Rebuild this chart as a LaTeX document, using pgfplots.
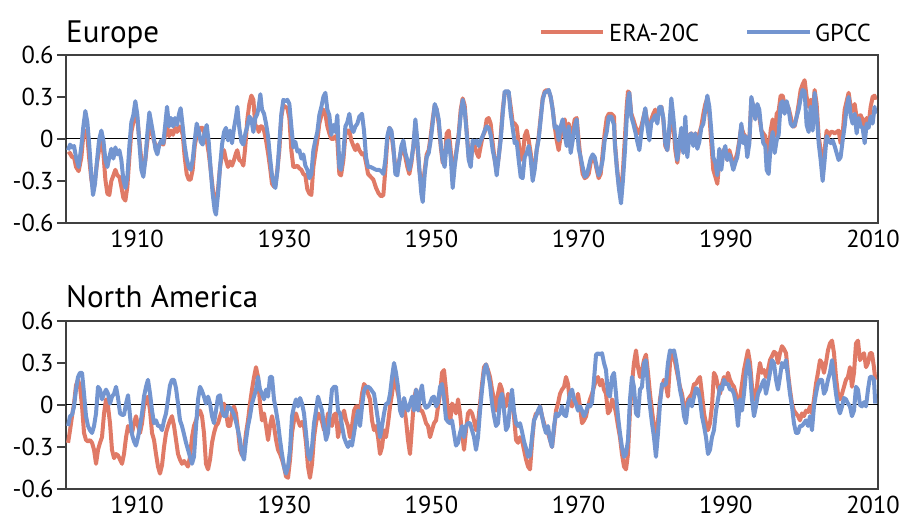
\documentclass[border=0pt]{standalone}
\usepackage{fontspec}
\setmainfont{PT Sans}
\usepackage{pgfplots}
\usepackage{pgfplotstable}
\pgfplotsset{compat=1.18}

\definecolor{era}{RGB}{224,122,102}
\definecolor{gpcc}{RGB}{115,149,208}

% Europe: year, ERA-20C, GPCC
\pgfplotstableread{
year era gpcc
1900.63 -0.11 -0.08
1900.90 -0.10 -0.04
1901.17 -0.13 -0.06
1901.44 -0.13 -0.05
1901.71 -0.20 -0.13
1902.07 -0.23 -0.20
1902.44 -0.13 -0.05
1902.71 0.03 0.09
1902.98 0.06 0.20
1903.25 0.02 0.12
1903.52 -0.15 -0.05
1903.80 -0.29 -0.27
1904.02 -0.35 -0.40
1904.29 -0.29 -0.32
1904.57 -0.17 -0.15
1904.84 -0.08 -0.01
1905.15 -0.02 0.06
1905.43 -0.10 -0.01
1905.70 -0.29 -0.15
1905.97 -0.39 -0.20
1906.24 -0.40 -0.13
1906.51 -0.30 -0.07
1906.79 -0.26 -0.14
1907.06 -0.22 -0.06
1907.33 -0.26 -0.11
1907.60 -0.27 -0.08
1907.87 -0.34 -0.15
1908.14 -0.42 -0.29
1908.42 -0.44 -0.35
1908.69 -0.34 -0.27
1908.96 -0.13 -0.05
1909.23 0.05 0.12
1909.50 0.12 0.17
1909.77 0.21 0.27
1910.05 0.14 0.17
1910.32 -0.01 -0.03
1910.59 -0.15 -0.22
1910.86 -0.22 -0.27
1911.13 -0.15 -0.15
1911.40 -0.02 0.04
1911.68 0.11 0.19
1911.95 0.06 0.11
1912.22 0.00 0.03
1912.49 -0.04 -0.07
1912.76 -0.07 -0.11
1913.03 -0.04 -0.04
1913.31 -0.03 -0.01
1913.58 -0.04 -0.03
1913.85 0.04 0.11
1914.08 0.09 0.23
1914.35 0.02 0.09
1914.62 0.06 0.15
1914.89 0.03 0.09
1915.16 0.08 0.15
1915.44 0.05 0.10
1915.71 0.09 0.18
1915.93 0.08 0.22
1916.21 0.03 0.09
1916.48 -0.13 -0.05
1916.75 -0.25 -0.14
1917.02 -0.29 -0.20
1917.29 -0.29 -0.22
1917.56 -0.22 -0.15
1917.84 -0.05 -0.01
1918.11 0.03 0.11
1918.38 0.05 0.06
1918.65 0.08 -0.02
1918.92 0.08 -0.04
1919.19 0.03 0.05
1919.47 -0.01 0.10
1919.74 -0.10 -0.02
1920.01 -0.22 -0.22
1920.28 -0.35 -0.39
1920.55 -0.46 -0.51
1920.73 -0.48 -0.54
1921.01 -0.36 -0.39
1921.28 -0.20 -0.20
1921.55 -0.11 -0.04
1921.82 -0.08 0.05
1922.09 -0.15 0.08
1922.36 -0.20 -0.01
1922.64 -0.16 0.06
1922.91 -0.19 -0.03
1923.18 -0.15 0.08
1923.45 -0.10 0.16
1923.63 -0.08 0.23
1923.90 -0.15 0.08
1924.18 -0.16 -0.02
1924.45 -0.19 -0.04
1924.72 -0.05 0.04
1924.99 0.14 0.09
1925.26 0.25 0.16
1925.54 0.31 0.14
1925.81 0.28 0.05
1926.08 0.09 0.15
1926.35 0.09 0.18
1926.53 0.05 0.23
1926.76 0.09 0.32
1926.98 0.09 0.21
1927.26 0.06 0.18
1927.53 -0.01 0.11
1927.80 -0.10 0.02
1928.07 -0.20 -0.13
1928.34 -0.32 -0.26
1928.61 -0.34 -0.33
1928.80 -0.33 -0.35
1929.07 -0.22 -0.23
1929.34 -0.08 -0.03
1929.61 0.16 0.18
1929.88 0.24 0.28
1930.15 0.23 0.27
1930.43 0.22 0.28
1930.70 0.15 0.25
1930.97 -0.08 0.09
1931.24 -0.20 -0.06
1931.51 -0.20 -0.02
1931.79 -0.19 -0.09
1932.06 -0.21 -0.08
1932.33 -0.22 -0.14
1932.60 -0.25 -0.11
1932.87 -0.26 -0.19
1933.14 -0.36 -0.22
1933.42 -0.39 -0.28
1933.69 -0.40 -0.25
1933.96 -0.20 -0.08
1934.23 -0.10 -0.01
1934.50 -0.01 0.05
1934.77 0.11 0.17
1935.05 0.17 0.23
1935.32 0.21 0.30
1935.59 0.18 0.33
1935.86 0.09 0.21
1936.13 0.04 0.17
1936.40 0.00 0.03
1936.68 0.00 0.10
1936.95 0.02 0.05
1937.22 -0.01 0.17
1937.49 -0.25 -0.20
1937.72 -0.26 -0.22
1938.04 -0.15 -0.10
1938.31 0.03 0.09
1938.58 0.06 0.12
1938.85 0.06 0.18
1939.12 -0.01 0.08
1939.40 -0.05 0.05
1939.67 -0.08 0.09
1939.94 -0.04 0.11
1940.21 -0.08 0.16
1940.57 -0.11 0.18
1940.84 -0.10 0.06
1941.12 -0.17 -0.13
1941.39 -0.25 -0.20
1941.75 -0.27 -0.20
1942.11 -0.29 -0.21
1942.48 -0.35 -0.22
1942.84 -0.39 -0.22
1943.20 -0.41 -0.23
1943.47 -0.40 -0.25
1943.74 -0.22 -0.15
1944.01 -0.01 0.02
1944.29 0.08 0.08
1944.56 0.05 0.06
1944.83 -0.08 -0.05
1945.10 -0.20 -0.25
1945.37 -0.22 -0.26
1945.65 -0.15 -0.15
1945.92 -0.08 -0.05
1946.19 -0.05 -0.01
1946.46 -0.13 -0.10
1946.73 -0.20 -0.15
1947.00 -0.25 -0.22
1947.28 -0.17 -0.15
1947.55 -0.05 -0.05
1947.82 0.09 0.14
1948.09 -0.05 -0.01
1948.36 -0.22 -0.22
1948.63 -0.32 -0.39
1948.82 -0.35 -0.45
1949.09 -0.22 -0.25
1949.36 -0.11 -0.13
1949.63 -0.08 -0.10
1949.90 0.02 -0.01
1950.17 0.14 0.11
1950.45 0.24 0.25
1950.72 0.21 0.21
1950.99 0.11 0.14
1951.26 -0.05 -0.03
1951.53 -0.17 -0.15
1951.80 -0.15 -0.20
1952.08 0.04 -0.02
1952.35 0.06 -0.01
1952.62 -0.08 -0.13
1952.89 -0.25 -0.35
1953.16 -0.17 -0.20
1953.44 -0.07 -0.08
1953.71 0.04 0.02
1953.98 0.21 0.17
1954.25 0.29 0.28
1954.52 0.24 0.21
1954.79 0.06 0.04
1955.07 -0.13 -0.15
1955.34 -0.17 -0.20
1955.61 -0.03 -0.01
1955.88 -0.05 -0.03
1956.15 -0.10 -0.01
1956.42 -0.13 -0.05
1956.70 -0.05 -0.01
1956.97 0.02 0.02
1957.24 0.05 0.06
1957.51 0.14 0.09
1957.78 0.15 0.08
1958.05 0.11 0.03
1958.33 -0.03 -0.08
1958.60 -0.15 -0.15
1958.87 -0.22 -0.26
1959.14 -0.13 -0.13
1959.41 0.02 -0.01
1959.69 0.21 0.18
1959.96 0.33 0.34
1960.23 0.34 0.34
1960.50 0.33 0.34
1960.77 0.23 0.18
1961.04 0.12 0.08
1961.32 0.11 -0.03
1961.59 0.09 -0.02
1961.86 -0.03 -0.15
1962.13 -0.15 -0.27
1962.40 -0.13 -0.28
1962.67 0.02 -0.13
1962.95 0.06 -0.10
1963.22 -0.01 -0.05
1963.49 -0.10 -0.14
1963.76 -0.25 -0.30
1964.03 -0.20 -0.22
1964.30 -0.08 -0.08
1964.58 0.02 0.00
1964.85 0.16 0.14
1965.12 0.29 0.28
1965.39 0.34 0.33
1965.66 0.35 0.34
1965.94 0.34 0.35
1966.21 0.30 0.30
1966.48 0.21 0.21
1966.75 0.09 0.08
1967.02 -0.01 0.09
1967.29 -0.08 -0.01
1967.57 0.02 0.09
1967.84 0.11 0.14
1968.11 0.14 0.03
1968.38 0.04 -0.05
1968.65 0.11 0.09
1968.92 0.02 -0.10
1969.20 0.06 -0.01
1969.47 0.14 0.09
1969.74 0.15 0.14
1970.01 -0.01 -0.07
1970.28 -0.15 -0.13
1970.55 -0.25 -0.20
1970.83 -0.28 -0.27
1971.10 -0.27 -0.26
1971.37 -0.25 -0.20
1971.64 -0.17 -0.14
1971.91 -0.13 -0.11
1972.19 -0.15 -0.13
1972.46 -0.22 -0.20
1972.73 -0.28 -0.26
1973.00 -0.25 -0.22
1973.27 -0.10 -0.15
1973.54 0.04 -0.01
1973.82 0.15 0.05
1974.09 0.18 0.16
1974.45 0.18 0.16
1974.81 0.16 0.10
1974.94 -0.03 -0.05
1975.21 -0.20 -0.22
1975.49 -0.34 -0.36
1975.76 -0.39 -0.46
1976.03 -0.22 -0.29
1976.30 0.02 -0.08
1976.53 0.23 0.14
1976.71 0.34 0.28
1976.89 0.33 0.33
1977.16 0.18 0.16
1977.43 0.14 0.11
1977.71 0.09 0.05
1977.98 0.06 -0.02
1978.25 0.04 -0.08
1978.52 0.09 0.04
1978.79 0.15 0.14
1979.06 0.21 0.22
1979.34 0.12 0.09
1979.61 0.04 -0.01
1979.88 0.14 0.12
1980.15 0.18 0.14
1980.42 0.21 0.17
1980.70 0.15 0.11
1980.97 0.22 0.23
1981.24 0.23 0.23
1981.51 0.14 0.15
1981.78 -0.05 -0.03
1982.05 -0.08 -0.08
1982.33 0.04 0.09
1982.60 0.20 0.29
1982.87 0.10 0.16
1983.14 -0.08 -0.01
1983.41 -0.17 -0.15
1983.68 -0.05 -0.03
1983.96 0.02 0.08
1984.23 0.02 -0.10
1984.50 0.04 0.16
1984.77 -0.05 -0.13
1985.04 0.03 0.02
1985.31 0.04 0.04
1985.59 -0.03 -0.05
1985.86 0.04 0.04
1986.13 -0.01 -0.07
1986.40 0.04 -0.02
1986.67 0.09 0.08
1986.95 0.18 0.11
1987.22 0.25 0.21
1987.49 0.29 0.31
1987.76 0.18 0.23
1988.03 -0.03 0.06
1988.30 -0.22 -0.13
1988.58 -0.27 -0.17
1988.85 -0.32 -0.26
1989.12 -0.15 -0.07
1989.39 -0.17 -0.22
1989.66 -0.08 -0.10
1989.93 -0.10 -0.05
1990.21 -0.15 -0.15
1990.48 -0.08 -0.11
1990.75 -0.13 -0.16
1991.02 -0.20 -0.22
1991.29 -0.15 -0.17
1991.56 -0.10 -0.13
1991.84 -0.01 -0.03
1992.11 0.09 0.11
1992.38 0.04 -0.03
1992.65 0.02 0.02
1992.92 -0.03 -0.13
1993.20 -0.01 -0.03
1993.47 0.29 0.30
1993.74 0.23 0.23
1994.01 0.16 0.14
1994.28 0.23 0.25
1994.55 0.16 0.21
1994.83 0.06 0.06
1995.10 0.04 -0.03
1995.37 0.02 -0.05
1995.55 -0.08 -0.22
1995.82 -0.13 -0.25
1996.09 0.06 -0.05
1996.37 0.14 0.05
1996.64 0.02 -0.10
1996.91 0.18 -0.01
1997.18 0.20 0.03
1997.45 0.31 0.25
1997.72 0.31 0.27
1997.99 0.25 0.18
1998.27 0.25 0.27
1998.54 0.22 0.21
1998.81 0.16 0.11
1999.08 0.09 0.09
1999.35 0.09 0.10
1999.63 0.16 0.16
1999.90 0.25 0.21
2000.17 0.35 0.29
2000.44 0.39 0.35
2000.71 0.42 0.34
2000.98 0.30 0.10
2001.26 0.23 0.05
2001.53 0.28 0.23
2001.80 0.18 0.06
2002.07 0.35 0.33
2002.34 0.25 0.18
2002.62 0.02 -0.03
2002.89 -0.08 -0.15
2003.16 -0.15 -0.30
2003.43 -0.08 -0.15
2003.70 0.06 0.02
2003.97 0.02 -0.01
2004.25 0.05 -0.03
2004.52 0.05 -0.01
2004.79 0.04 -0.05
2005.06 0.05 -0.10
2005.33 0.06 -0.15
2005.60 -0.03 -0.13
2005.88 0.04 -0.01
2006.15 0.21 0.09
2006.42 0.27 0.23
2006.69 0.33 0.30
2006.96 0.23 0.17
2007.23 0.20 0.11
2007.51 0.25 0.18
2007.78 0.15 0.04
2008.05 0.16 0.15
2008.32 0.17 0.09
2008.59 0.14 0.08
2008.87 0.06 -0.03
2009.14 0.15 0.11
2009.41 0.11 0.08
2009.68 0.23 0.16
2009.95 0.30 0.11
2010.22 0.31 0.23
2010.31 0.28 0.18
}\europe

% North America: year, ERA-20C, GPCC
\pgfplotstableread{
year era gpcc
1900.63 -0.27 -0.15
1900.90 -0.18 -0.08
1901.17 -0.08 -0.07
1901.44 0.01 -0.01
1901.71 0.14 0.11
1901.98 0.18 0.20
1902.26 0.13 0.23
1902.53 -0.01 0.23
1902.80 -0.20 0.08
1903.07 -0.25 -0.08
1903.34 -0.26 -0.15
1903.61 -0.25 -0.18
1903.89 -0.27 -0.20
1904.16 -0.32 -0.15
1904.43 -0.42 -0.06
1904.70 -0.32 0.13
1904.97 -0.27 0.11
1905.24 -0.23 0.04
1905.52 -0.06 0.08
1905.79 0.04 0.11
1906.06 -0.01 0.08
1906.33 -0.13 0.01
1906.60 -0.32 0.06
1906.88 -0.38 0.08
1907.15 -0.35 0.13
1907.42 -0.36 0.05
1907.69 -0.39 -0.06
1907.96 -0.42 -0.07
1908.23 -0.35 -0.07
1908.51 -0.23 0.01
1908.78 -0.15 0.07
1909.05 -0.18 -0.08
1909.32 -0.20 -0.21
1909.59 -0.13 -0.26
1909.86 -0.08 -0.29
1910.14 -0.15 -0.23
1910.41 -0.20 -0.15
1910.68 -0.13 -0.06
1910.95 -0.01 0.06
1911.22 0.04 0.13
1911.49 0.06 0.18
1911.77 -0.04 0.08
1912.04 -0.20 -0.04
1912.31 -0.25 -0.13
1912.58 -0.35 -0.11
1912.85 -0.44 -0.15
1913.12 -0.49 -0.15
1913.40 -0.43 -0.18
1913.67 -0.30 -0.11
1913.94 -0.20 -0.06
1914.21 -0.15 0.04
1914.48 -0.11 0.14
1914.75 -0.08 0.18
1915.03 -0.15 0.18
1915.30 -0.25 0.12
1915.57 -0.35 0.01
1915.84 -0.39 -0.11
1916.11 -0.42 -0.15
1916.39 -0.40 -0.21
1916.66 -0.42 -0.27
1916.93 -0.44 -0.32
1917.20 -0.37 -0.37
1917.47 -0.23 -0.42
1917.74 -0.15 -0.37
1918.02 -0.11 -0.15
1918.29 -0.06 0.04
1918.56 -0.04 0.13
1918.83 -0.08 0.10
1919.10 -0.20 0.06
1919.37 -0.42 0.01
1919.65 -0.46 0.06
1919.92 -0.39 0.01
1920.19 -0.27 -0.08
1920.46 -0.20 -0.13
1920.73 -0.15 -0.04
1921.01 -0.13 0.06
1921.28 -0.08 0.07
1921.55 -0.04 -0.04
1921.82 0.01 -0.08
1922.09 -0.05 -0.08
1922.36 -0.15 -0.01
1922.64 -0.15 -0.02
1922.91 -0.06 -0.04
1923.18 -0.01 -0.07
1923.45 -0.06 -0.12
1923.72 -0.18 -0.18
1923.99 -0.32 -0.25
1924.27 -0.36 -0.35
1924.54 -0.32 -0.39
1924.81 -0.20 -0.25
1925.08 -0.11 -0.15
1925.35 0.01 -0.08
1925.62 0.11 0.01
1925.90 0.20 0.06
1926.17 0.27 0.11
1926.44 0.20 0.20
1926.71 0.01 0.11
1926.98 -0.11 0.08
1927.25 -0.06 0.04
1927.53 -0.15 0.11
1927.80 -0.25 0.06
1928.07 -0.15 0.20
1928.34 -0.08 0.20
1928.61 -0.15 0.04
1928.89 -0.25 -0.04
1929.16 -0.32 -0.13
1929.43 -0.35 -0.25
1929.70 -0.39 -0.35
1929.97 -0.44 -0.44
1930.24 -0.51 -0.49
1930.52 -0.52 -0.44
1930.79 -0.39 -0.32
1931.06 -0.20 -0.08
1931.33 -0.11 -0.01
1931.60 -0.06 0.04
1931.87 -0.11 -0.01
1932.15 -0.15 0.05
1932.42 -0.12 0.01
1932.69 -0.15 -0.06
1932.96 -0.27 -0.20
1933.23 -0.44 -0.35
1933.50 -0.52 -0.39
1933.78 -0.42 -0.30
1934.05 -0.23 -0.13
1934.32 -0.13 -0.04
1934.59 -0.06 0.06
1934.86 -0.08 0.01
1935.14 -0.12 -0.04
1935.41 -0.18 -0.15
1935.68 -0.15 -0.25
1935.95 -0.06 -0.20
1936.22 -0.11 -0.04
1936.49 -0.15 0.11
1936.77 -0.07 0.13
1937.04 -0.06 0.13
1937.31 -0.23 -0.04
1937.58 -0.15 -0.06
1937.86 -0.08 -0.15
1938.13 -0.04 -0.23
1938.40 -0.11 -0.27
1938.67 -0.15 -0.30
1938.94 -0.23 -0.26
1939.21 -0.15 -0.29
1939.49 -0.04 -0.20
1939.76 -0.01 -0.11
1940.03 -0.01 -0.04
1940.30 -0.04 -0.15
1940.57 0.08 -0.01
1940.84 0.15 0.10
1941.12 0.13 0.13
1941.39 0.08 0.13
1941.66 0.04 0.12
1941.93 -0.11 0.10
1942.20 -0.18 0.08
1942.47 -0.15 -0.01
1942.75 -0.23 -0.11
1943.02 -0.35 -0.23
1943.29 -0.30 -0.15
1943.56 -0.18 -0.06
1943.83 -0.23 0.01
1944.11 -0.13 0.01
1944.38 -0.01 0.08
1944.65 0.08 0.20
1944.92 0.20 0.30
1945.19 0.15 0.23
1945.46 0.08 0.13
1945.74 0.01 -0.04
1946.01 -0.04 -0.08
1946.28 -0.01 0.05
1946.55 -0.11 -0.01
1946.82 -0.25 -0.04
1947.09 -0.35 0.01
1947.37 -0.15 0.06
1947.64 0.04 -0.04
1947.91 0.11 0.11
1948.18 0.06 -0.04
1948.45 -0.04 0.08
1948.72 -0.04 0.14
1949.00 -0.08 0.01
1949.27 -0.13 -0.02
1949.54 -0.15 -0.01
1949.81 -0.23 0.01
1950.08 -0.18 0.05
1950.35 -0.13 0.06
1950.63 -0.11 -0.01
1950.90 -0.01 0.02
1951.17 0.08 0.13
1951.44 0.23 0.15
1951.71 0.25 0.05
1951.98 0.11 -0.10
1952.26 -0.06 -0.12
1952.53 -0.13 -0.13
1952.80 0.01 -0.11
1953.07 -0.01 -0.20
1953.34 -0.06 -0.29
1953.62 0.04 -0.27
1953.89 -0.06 -0.20
1954.16 -0.20 -0.15
1954.43 -0.32 -0.23
1954.70 -0.18 -0.15
1954.97 -0.06 -0.13
1955.25 -0.04 -0.13
1955.52 -0.06 -0.18
1955.79 -0.11 -0.23
1956.06 -0.18 -0.32
1956.33 -0.13 -0.23
1956.61 0.01 -0.04
1956.88 0.15 0.11
1957.15 0.27 0.24
1957.42 0.29 0.29
1957.69 0.25 0.23
1957.96 0.20 0.15
1958.24 0.11 0.01
1958.51 0.04 -0.08
1958.78 -0.04 -0.15
1959.05 0.08 -0.13
1959.32 0.15 0.04
1959.59 0.11 0.08
1959.87 -0.01 -0.04
1960.14 -0.01 -0.18
1960.41 0.08 -0.15
1960.68 0.04 -0.01
1960.95 0.01 0.11
1961.22 -0.08 -0.04
1961.50 -0.25 -0.13
1961.77 -0.27 -0.15
1962.04 -0.23 -0.13
1962.31 -0.25 -0.19
1962.58 -0.32 -0.26
1962.86 -0.39 -0.31
1963.13 -0.44 -0.37
1963.40 -0.46 -0.36
1963.67 -0.27 -0.23
1963.94 -0.11 -0.11
1964.21 -0.06 -0.08
1964.49 -0.06 -0.04
1964.76 -0.01 -0.01
1965.03 -0.08 -0.08
1965.30 -0.13 -0.15
1965.57 -0.18 -0.20
1965.84 -0.20 -0.15
1966.12 -0.25 -0.25
1966.39 -0.30 -0.30
1966.66 -0.18 -0.15
1966.93 -0.04 -0.06
1967.20 0.01 -0.08
1967.47 0.08 -0.06
1967.75 0.11 -0.01
1968.02 0.13 -0.07
1968.29 0.20 -0.08
1968.56 0.15 0.01
1968.83 0.01 0.08
1969.11 -0.01 0.11
1969.38 0.04 0.04
1969.65 0.01 0.01
1969.92 0.08 -0.04
1970.19 -0.01 -0.01
1970.46 -0.13 -0.04
1970.74 -0.11 -0.08
1971.01 -0.08 -0.05
1971.28 -0.01 0.00
1971.55 0.04 -0.01
1971.82 0.08 0.02
1972.09 0.13 0.18
1972.37 0.18 0.36
1972.64 0.20 0.37
1972.91 0.14 0.36
1973.18 0.18 0.37
1973.45 0.11 0.30
1973.72 0.08 0.25
1973.99 -0.06 0.08
1974.26 -0.04 0.06
1974.54 0.04 0.20
1974.81 0.01 0.23
1975.08 -0.06 0.08
1975.35 -0.15 -0.08
1975.62 -0.23 -0.20
1975.89 -0.35 -0.30
1976.17 -0.44 -0.37
1976.44 -0.46 -0.35
1976.71 -0.35 -0.25
1976.98 -0.04 0.04
1977.25 0.15 0.20
1977.52 0.30 0.13
1977.80 0.39 -0.06
1978.07 0.27 -0.08
1978.34 0.20 0.11
1978.61 0.25 0.13
1978.88 0.32 0.30
1979.15 0.36 0.32
1979.43 0.23 0.13
1979.70 0.08 -0.01
1979.97 -0.04 -0.13
1980.24 -0.15 -0.23
1980.51 -0.25 -0.37
1980.79 -0.11 -0.20
1981.06 0.04 0.01
1981.33 0.13 0.15
1981.60 0.18 0.14
1981.87 0.14 0.15
1982.14 0.06 0.30
1982.42 0.30 0.39
1982.69 0.38 0.38
1982.96 0.35 0.39
1983.23 0.27 0.32
1983.50 0.20 0.23
1983.77 0.13 0.11
1984.05 0.08 0.04
1984.32 -0.01 -0.08
1984.59 -0.06 -0.13
1984.86 0.04 0.01
1985.13 0.06 0.04
1985.40 0.08 -0.01
1985.68 0.15 0.06
1985.95 0.15 0.12
1986.22 0.18 0.11
1986.49 0.20 0.04
1986.76 0.08 -0.08
1987.04 -0.06 -0.15
1987.31 -0.13 -0.23
1987.58 -0.18 -0.35
1987.85 -0.13 -0.32
1988.12 -0.01 -0.23
1988.39 0.23 -0.18
1988.67 0.20 -0.04
1988.94 0.13 0.04
1989.21 0.08 0.13
1989.48 0.15 0.11
1989.75 0.20 0.18
1990.02 0.15 0.15
1990.30 0.23 0.15
1990.57 0.18 0.11
1990.84 0.15 0.11
1991.11 0.13 0.08
1991.38 0.08 0.01
1991.65 -0.04 -0.15
1991.93 0.04 0.04
1992.20 0.15 -0.04
1992.47 0.25 0.08
1992.74 0.32 0.23
1993.01 0.39 0.32
1993.29 0.30 0.23
1993.56 0.13 0.04
1993.83 0.04 -0.08
1994.10 0.06 -0.01
1994.37 0.20 0.08
1994.64 0.30 0.11
1994.92 0.23 0.15
1995.19 0.25 0.18
1995.46 0.20 0.08
1995.73 0.25 0.15
1996.00 0.32 0.23
1996.28 0.35 0.32
1996.55 0.38 0.30
1996.82 0.37 0.18
1997.09 0.30 0.11
1997.36 0.37 0.20
1997.63 0.42 0.30
1997.91 0.40 0.27
1998.18 0.37 0.32
1998.45 0.23 0.20
1998.72 0.11 0.08
1998.99 0.01 -0.01
1999.26 -0.04 -0.13
1999.54 -0.06 -0.20
1999.81 -0.08 -0.20
2000.08 -0.11 -0.15
2000.35 -0.06 -0.15
2000.62 -0.08 -0.13
2000.89 -0.04 -0.11
2001.17 -0.05 -0.15
2001.44 -0.01 -0.08
2001.71 -0.06 -0.18
2001.98 0.04 -0.01
2002.25 0.15 0.08
2002.52 0.23 0.15
2002.80 0.32 0.18
2003.07 0.30 0.18
2003.34 0.23 0.08
2003.61 0.30 0.11
2003.88 0.39 0.18
2004.15 0.44 0.23
2004.43 0.46 0.32
2004.70 0.37 0.20
2004.97 0.20 0.08
2005.24 0.08 -0.01
2005.51 0.04 -0.06
2005.79 0.08 -0.01
2006.06 0.13 0.05
2006.33 0.18 0.04
2006.60 0.20 0.01
2006.87 0.27 -0.01
2007.14 0.13 -0.08
2007.42 0.23 -0.04
2007.69 0.44 0.13
2007.96 0.46 0.11
2008.23 0.32 0.00
2008.50 0.35 -0.01
2008.78 0.37 0.02
2009.05 0.27 -0.01
2009.32 0.30 0.11
2009.59 0.37 0.20
2009.86 0.37 0.20
2010.13 0.27 0.18
2010.31 0.18 0.01
}\namerica

\pgfplotsset{
  panel/.style={
    scale only axis, width=812pt, height=168pt,
    anchor=south west,
    xmin=1900.35, xmax=2010.68, ymin=-0.6, ymax=0.6,
    xtick={1910,1930,1950,1970,1990,2010},
    xticklabels={1910,1930,1950,1970,1990,2010},
    ytick={-0.6,-0.3,0,0.3,0.6},
    yticklabels={-0.6,-0.3,0,0.3,0.6},
    xtick pos=bottom, ytick pos=left,
    x tick style={draw=none},
    y tick style={black!75, line width=1.2pt},
    tick align=outside, major tick length=9pt,
    axis line style={black!75, line width=1.3pt},
    ticklabel style={font=\fontsize{24.5}{28}\selectfont},
    xticklabel style={inner sep=1pt, yshift=3pt},
  },
  series/.style={#1, line width=4pt, line join=round},
}

\begin{document}
\begin{tikzpicture}
\useasboundingbox (0pt,0pt) rectangle (903pt,519pt);

\begin{axis}[panel, at={(66pt,296pt)}]
  \addplot[forget plot, black, line width=1pt] coordinates {(1900.35,0) (2010.68,0)};
  \addplot[series=era] table[x=year, y=era] {\europe};
  \addplot[series=gpcc] table[x=year, y=gpcc] {\europe};
\end{axis}
\node[anchor=base west, inner sep=0pt, font=\fontsize{31}{34}\selectfont] at (66pt,476pt) {Europe};

% legend
\draw[era, line width=4pt] (541pt,487pt) -- (603pt,487pt);
\node[anchor=base west, inner sep=0pt, font=\fontsize{24.5}{28}\selectfont] at (609pt,477pt) {ERA-20C};
\draw[gpcc, line width=4pt] (747pt,487pt) -- (810pt,487pt);
\node[anchor=base west, inner sep=0pt, font=\fontsize{24.5}{28}\selectfont] at (815pt,477pt) {GPCC};

\begin{axis}[panel, at={(66pt,30pt)}]
  \addplot[forget plot, black, line width=1pt] coordinates {(1900.35,0) (2010.68,0)};
  \addplot[series=era] table[x=year, y=era] {\namerica};
  \addplot[series=gpcc] table[x=year, y=gpcc] {\namerica};
\end{axis}
\node[anchor=base west, inner sep=0pt, font=\fontsize{31}{34}\selectfont] at (66pt,211pt) {North America};
\end{tikzpicture}
\end{document}
